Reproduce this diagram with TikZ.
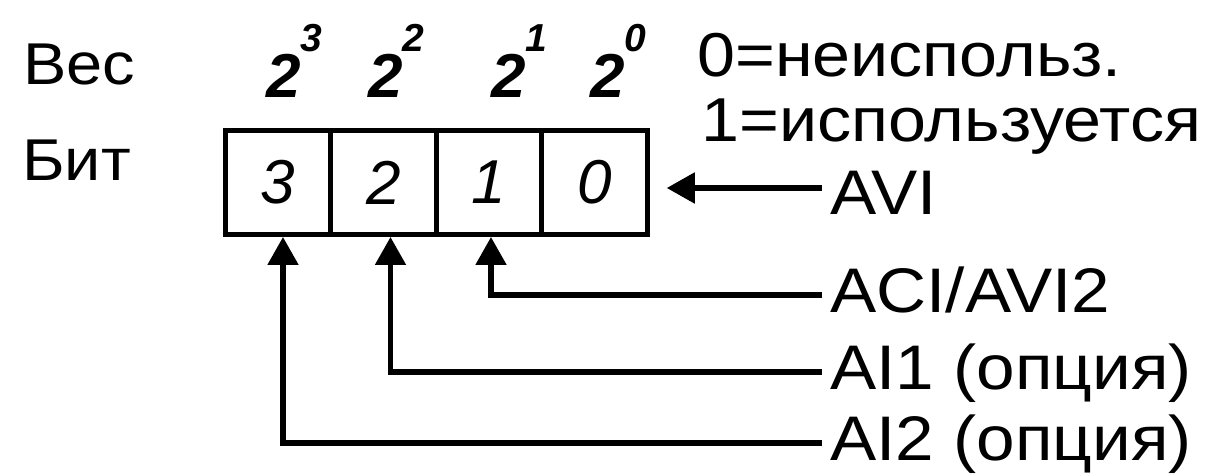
\documentclass[tikz,border=0pt]{standalone}
\usepackage{fontspec}
\setmainfont{Liberation Sans}[FakeStretch=1.1]
\newfontfamily\digitfont{Liberation Sans}
\usetikzlibrary{arrows.meta,positioning}
\tikzset{
  bitcell/.style={draw, line width=2.5pt, outer sep=0pt, inner sep=0pt, minimum width=52.75pt, minimum height=52pt, font=\fontsize{31pt}{37pt}\digitfont\itshape},
  weight/.style={anchor=base west, inner sep=0pt, font=\fontsize{31pt}{37pt}\digitfont\bfseries\itshape},
  rowlabel/.style={anchor=base west, inner sep=0pt, font=\fontsize{29.5pt}{35pt}\selectfont},
  caption/.style={anchor=base west, inner sep=0pt, font=\fontsize{31pt}{37pt}\selectfont},
  source/.style={anchor=west, inner xsep=4pt, inner ysep=0pt, text height=22.5pt, text depth=4.5pt, font=\fontsize{31.5pt}{37pt}\selectfont},
  feed/.style={-{Triangle[length=14pt,width=15pt]}, line width=2.6pt}
}
\newcommand{\wexp}[1]{\raisebox{23pt}{\fontsize{19.5pt}{20pt}\selectfont #1}}
\begin{document}
\begin{tikzpicture}[x=0.5pt, y=-0.5pt]
\useasboundingbox (0,0) rectangle (1217,475);
% row labels
\node[rowlabel] (weightlbl) at (23,85) {Вес};
\node[rowlabel] (bitlbl) at (22,181) {Бит};
% bit cells
\node[bitcell] (b3) at (278,182.5) {3};
\node[bitcell, right=0pt of b3] (b2) {2};
\node[bitcell, right=0pt of b2] (b1) {1};
\node[bitcell, right=0pt of b1] (b0) {0};
% weights
\node[weight] (w3) at (266,98) {2\wexp{3}};
\node[weight] (w2) at (368,98) {2\wexp{2}};
\node[weight] (w1) at (491,98) {2\wexp{1}};
\node[weight] (w0) at (590,98) {2\wexp{0}};
% legend
\node[caption] (zero) at (697,77) {0=неиспольз.};
\node[caption] (one) at (701,142) {1=используется};
% sources
\node[source, text height=27pt, text depth=0pt] (avi) at (822,188) {AVI};
\node[source] (aci) at (822,295) {ACI/AVI2};
\node[source] (ai1) at (822,372) {AI1 (опция)};
\node[source] (ai2) at (822,443) {AI2 (опция)};
\draw[feed, shorten >=9.75pt] (avi.west) -- (avi.west -| b0.east);
\draw[feed, shorten >=1.25pt] (aci.west) -| ([xshift=1pt]b1.south);
\draw[feed, shorten >=1.25pt] (ai1.west) -| ([xshift=3.5pt]b2.south);
\draw[feed, shorten >=1.25pt] (ai2.west) -| ([xshift=2.5pt]b3.south);
\end{tikzpicture}
\end{document}
